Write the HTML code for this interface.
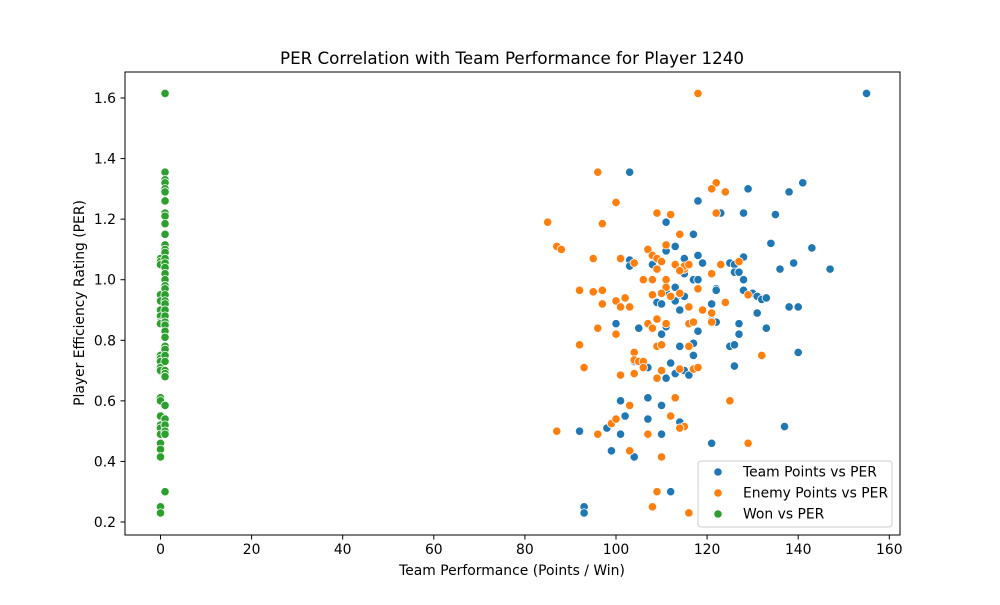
<!DOCTYPE html>
<html><head><meta charset="utf-8"><style>
body{margin:0;background:#fff;font-family:"Liberation Sans","DejaVu Sans",sans-serif;}
svg text{font-family:"DejaVu Sans","Liberation Sans",sans-serif;}
</style></head><body>
<svg id="c" width="1000" height="600" xmlns="http://www.w3.org/2000/svg">
<rect width="1000" height="600" fill="#fff"/>
<text x="512" y="64" text-anchor="middle" font-size="16.7">PER Correlation with Team Performance for Player 1240</text>
<rect x="125" y="72" width="775" height="463" fill="none" stroke="#000" stroke-width="1"/>
<g id="axes"></g>
<g id="marks"></g>
<text x="512" y="575" text-anchor="middle" font-size="13.9">Team Performance (Points / Win)</text>
<text transform="translate(84,303) rotate(-90)" text-anchor="middle" font-size="13.9">Player Efficiency Rating (PER)</text>
<g>
<rect x="698" y="461" width="194" height="66" rx="3" fill="#fff" fill-opacity="0.8" stroke="#ccc"/>
<g><circle cx="718" cy="472" r="4.2" fill="#1f77b4" stroke="#fff" stroke-width="0.8"/><text x="743" y="476.5" font-size="13.9">Team Points vs PER</text></g>
<g><circle cx="718" cy="493" r="4.2" fill="#ff7f0e" stroke="#fff" stroke-width="0.8"/><text x="743" y="497.5" font-size="13.9">Enemy Points vs PER</text></g>
<g><circle cx="718" cy="514" r="4.2" fill="#2ca02c" stroke="#fff" stroke-width="0.8"/><text x="743" y="518.5" font-size="13.9">Won vs PER</text></g>
</g>
</svg>
<script>
const xTicks=[0,20,40,60,80,100,120,140,160];
const yTicks=[0.2,0.4,0.6,0.8,1.0,1.2,1.4,1.6];
const teamX=[155,141,138,129,118,128,135,123,103,111,117,134,143,111,113,139,136,147,125,126,128,118,119,115,103,103,108,109,117,118,128,126,127,115,115,111,113,128,130,131,132,133,122,122,114,115,111,109,110,113,121,131,114,100,105,111,110,118,121,122,127,127,133,138,140,125,126,117,117,114,140,104,106,112,107,113,115,111,116,126,107,101,110,102,107,114,115,137,92,98,101,110,99,104,121,93,93,112];
const teamY=[1.615,1.32,1.29,1.30,1.26,1.22,1.215,1.22,1.355,1.19,1.15,1.12,1.105,1.095,1.11,1.055,1.035,1.035,1.055,1.05,1.075,1.08,1.055,1.07,1.065,1.045,1.05,1.07,1.0,1.0,1.0,1.025,1.025,1.04,1.02,0.98,0.975,0.965,0.955,0.945,0.935,0.94,0.97,0.965,0.95,0.945,0.96,0.925,0.92,0.93,0.92,0.89,0.9,0.855,0.84,0.845,0.82,0.83,0.865,0.86,0.855,0.82,0.84,0.91,0.91,0.78,0.785,0.79,0.75,0.78,0.76,0.73,0.71,0.725,0.71,0.69,0.7,0.675,0.685,0.715,0.61,0.6,0.585,0.55,0.54,0.53,0.515,0.515,0.5,0.51,0.49,0.49,0.435,0.415,0.46,0.25,0.23,0.3];
const enemyX=[118,96,122,121,124,100,109,112,122,97,85,87,88,114,111,107,95,101,104,108,109,110,113,115,115,116,114,123,127,121,106,109,111,108,111,97,92,95,102,100,97,101,103,108,110,112,114,116,119,121,118,124,129,107,109,108,111,116,117,121,96,100,92,109,110,116,132,104,104,105,106,106,93,101,109,110,104,114,117,118,113,125,103,112,99,100,115,114,87,96,107,103,110,129,109,108,116];
const enemyY=[1.615,1.355,1.32,1.3,1.29,1.255,1.22,1.215,1.22,1.185,1.19,1.11,1.1,1.15,1.115,1.1,1.07,1.07,1.055,1.08,1.07,1.06,1.05,1.035,1.045,1.05,1.03,1.05,1.06,1.02,1.0,1.035,1.0,1.0,0.975,0.965,0.965,0.96,0.94,0.93,0.92,0.91,0.91,0.95,0.955,0.945,0.955,0.91,0.9,0.89,0.97,0.925,0.95,0.855,0.87,0.84,0.855,0.855,0.86,0.86,0.84,0.82,0.785,0.78,0.785,0.78,0.75,0.76,0.735,0.73,0.73,0.71,0.71,0.685,0.675,0.7,0.69,0.705,0.705,0.71,0.61,0.6,0.585,0.55,0.525,0.54,0.515,0.51,0.5,0.49,0.49,0.435,0.415,0.46,0.3,0.25,0.23];
const wonX=[0,0,0,0,0,0,0,0,0,0,0,0,0,0,0,0,0,0,0,0,0,0,0,0,0,1,1,1,1,1,1,1,1,1,1,1,1,1,1,1,1,1,1,1,1,1,1,1,1,1,1,1,1,1,1,1,1,1,1,1,1,1,1,1,1,1,1,1];
const wonY=[1.07,1.06,1.05,0.95,0.93,0.9,0.88,0.86,0.855,0.75,0.74,0.73,0.71,0.7,0.61,0.6,0.55,0.52,0.51,0.49,0.46,0.44,0.415,0.25,0.23,1.615,1.355,1.33,1.32,1.30,1.29,1.26,1.22,1.21,1.185,1.15,1.115,1.1,1.09,1.07,1.055,1.04,1.02,1.0,0.98,0.97,0.95,0.93,0.92,0.9,0.88,0.86,0.85,0.83,0.81,0.78,0.77,0.75,0.73,0.7,0.69,0.68,0.585,0.54,0.52,0.5,0.49,0.3];
const NS="http://www.w3.org/2000/svg";
function sx(v){return 160.5+v*4.555;}
function sy(v){return 98+(1.6-v)*302.86;}
const axes=document.getElementById('axes');
xTicks.forEach(t=>{
  const l=document.createElementNS(NS,'line');
  l.setAttribute('x1',sx(t));l.setAttribute('x2',sx(t));l.setAttribute('y1',535);l.setAttribute('y2',539.5);l.setAttribute('stroke','#000');
  
  
  axes.appendChild(l);
  const tx=document.createElementNS(NS,'text');
  tx.setAttribute('x',sx(t));tx.setAttribute('y',554);tx.setAttribute('text-anchor','middle');tx.setAttribute('font-size','13.9');
  tx.textContent=t;
  
  
  axes.appendChild(tx);
});
yTicks.forEach(t=>{
  const l=document.createElementNS(NS,'line');
  l.setAttribute('x1',120.5);l.setAttribute('x2',125);l.setAttribute('y1',sy(t));l.setAttribute('y2',sy(t));l.setAttribute('stroke','#000');
  
  
  axes.appendChild(l);
  const tx=document.createElementNS(NS,'text');
  tx.setAttribute('x',116);tx.setAttribute('y',sy(t)+5);tx.setAttribute('text-anchor','end');tx.setAttribute('font-size','13.9');
  tx.textContent=t.toFixed(1);
  
  
  axes.appendChild(tx);
});
const marks=document.getElementById('marks');
function draw(xs,ys,color,name){
  xs.forEach((x,i)=>{
    const c=document.createElementNS(NS,'circle');
    c.setAttribute('cx',sx(x));c.setAttribute('cy',sy(ys[i]));c.setAttribute('r',4.2);
    c.setAttribute('fill',color);c.setAttribute('stroke','#fff');c.setAttribute('stroke-width','0.8');
    
    
    marks.appendChild(c);
  });
}
draw(teamX,teamY,'#1f77b4','team-point');
draw(enemyX,enemyY,'#ff7f0e','enemy-point');
draw(wonX,wonY,'#2ca02c','won-point');
</script>
</body></html>
